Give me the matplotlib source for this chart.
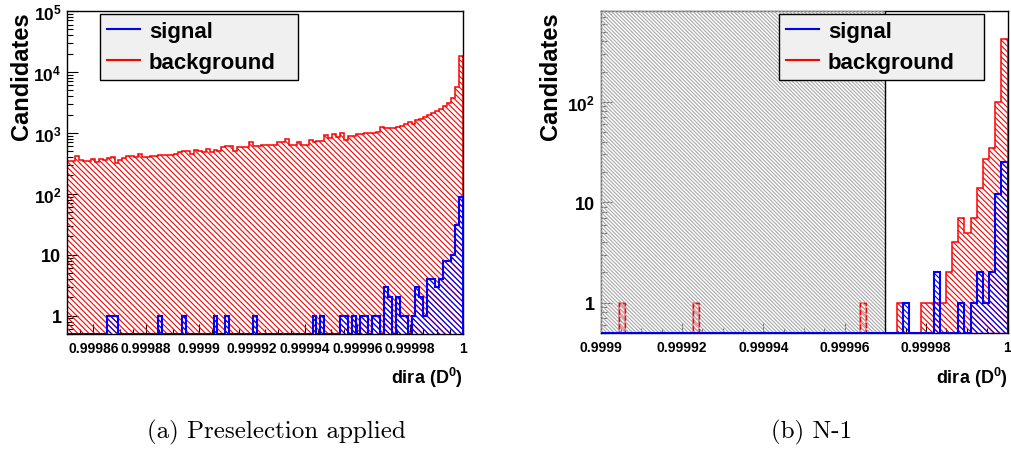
import numpy as np
import matplotlib
matplotlib.use('Agg')
import matplotlib.pyplot as plt
from matplotlib.lines import Line2D
from matplotlib.ticker import FixedLocator, FixedFormatter, LogLocator, MultipleLocator, NullFormatter

# ---- data ----
# (a) preselection applied: 100 bins from 0.99985 to 1
range_a = (0.99985, 1.0)
background_a = [
    351, 351, 424, 364, 342, 342, 378, 330, 378, 364,
    388, 398, 321, 364, 388, 414, 414, 398, 452, 398,
    398, 424, 424, 430, 440, 440, 440, 452, 482, 500,
    500, 452, 532, 505, 482, 553, 482, 532, 513, 582,
    605, 605, 501, 582, 582, 582, 713, 620, 620, 644,
    629, 629, 629, 713, 713, 800, 629, 629, 705, 629,
    629, 750, 705, 733, 733, 906, 830, 942, 851, 1000,
    778, 885, 885, 942, 942, 1000, 1000, 1000, 1050, 1247,
    1182, 1182, 1200, 1250, 1300, 1376, 1525, 1412, 1603, 1665,
    1821, 1937, 2147, 2300, 2435, 2766, 3137, 3795, 5700, 18500,
]
signal_a = [
    0, 0, 0, 0, 0, 0, 0, 0, 0, 0,
    1, 1, 1, 0, 0, 0, 0, 0, 0, 0,
    0, 0, 0, 1, 0, 0, 0, 0, 0, 1,
    0, 0, 0, 0, 0, 0, 0, 1, 0, 0,
    1, 0, 0, 0, 0, 0, 0, 1, 0, 0,
    0, 0, 0, 0, 0, 0, 0, 0, 0, 0,
    0, 0, 1, 0, 1, 0, 0, 0, 0, 1,
    1, 0, 1, 0, 1, 1, 0, 1, 1, 0,
    3, 2, 0, 2, 1, 1, 0, 1, 3, 2,
    1, 4, 4, 3, 4, 8, 8, 10, 31, 88,
]
xticks_a = [0.99986, 0.99988, 0.9999, 0.99992, 0.99994, 0.99996, 0.99998, 1.0]
xlabels_a = ['0.99986', '0.99988', '0.9999', '0.99992', '0.99994', '0.99996', '0.99998', '1']
yticks_a = [1, 10, 100, 1000, 10000, 100000]
ylabels_a = ['1', '10', r'$10^{2}$', r'$10^{3}$', r'$10^{4}$', r'$10^{5}$']

# (b) N-1: 66 bins from 0.9999 to 1, cut region shaded
range_b = (0.9999, 1.0)
cut_b = 0.99997
background_b = [
    0, 0, 0, 1, 0, 0, 0, 0, 0, 0,
    0, 0, 0, 0, 0, 1, 0, 0, 0, 0,
    0, 0, 0, 0, 0, 0, 0, 0, 0, 0,
    0, 0, 0, 0, 0, 0, 0, 0, 0, 0,
    0, 0, 1, 0, 0, 0, 0, 0, 1, 0,
    0, 0, 1, 1, 1, 1, 2, 4, 7, 5,
    7, 14, 27, 35, 100, 420,
]
signal_b = [
    0, 0, 0, 0, 0, 0, 0, 0, 0, 0,
    0, 0, 0, 0, 0, 0, 0, 0, 0, 0,
    0, 0, 0, 0, 0, 0, 0, 0, 0, 0,
    0, 0, 0, 0, 0, 0, 0, 0, 0, 0,
    0, 0, 0, 0, 0, 0, 0, 0, 0, 1,
    0, 0, 0, 0, 2, 0, 0, 0, 1, 0,
    1, 2, 1, 2, 12, 25,
]
xticks_b = [0.9999, 0.99992, 0.99994, 0.99996, 0.99998, 1.0]
xlabels_b = ['0.9999', '0.99992', '0.99994', '0.99996', '0.99998', '1']
yticks_b = [1, 10, 100]
ylabels_b = ['1', '10', r'$10^{2}$']

captions = ['(a) Preselection applied', '(b) N-1']

plt.rcParams['font.family'] = ['Liberation Sans', 'DejaVu Sans']
plt.rcParams['font.weight'] = 'bold'
plt.rcParams['mathtext.fontset'] = 'custom'
plt.rcParams['mathtext.rm'] = 'Liberation Sans:bold'
plt.rcParams['mathtext.it'] = 'Liberation Sans:bold'
plt.rcParams['mathtext.bf'] = 'Liberation Sans:bold'
plt.rcParams['hatch.linewidth'] = 0.8

W, H = 1012, 456
fig = plt.figure(figsize=(W / 100, H / 100), dpi=100)
ax1 = fig.add_axes([67 / W, 1 - 335 / H, 396 / W, 323 / H])
ax2 = fig.add_axes([600.7 / W, 1 - 334 / H, 406.8 / W, 322 / H])


def draw_hist(ax, counts, xr, ymin, color, lw, hatch, z, ls='-'):
    counts = np.asarray(counts, dtype=float)
    edges = np.linspace(xr[0], xr[1], len(counts) + 1)
    vals = np.where(counts > 0, counts, ymin)
    ax.stairs(vals, edges, baseline=ymin, fill=True, facecolor='none',
              edgecolor=color, hatch=hatch, linewidth=lw, linestyle=ls, zorder=z)


def style_axis(ax, xr, ylim, xt, xl, yt, yl):
    ax.set_yscale('log')
    ax.set_xlim(*xr)
    ax.set_ylim(*ylim)
    ax.xaxis.set_major_locator(FixedLocator(xt))
    ax.xaxis.set_major_formatter(FixedFormatter(xl))
    ax.xaxis.set_minor_locator(MultipleLocator(0.000005))
    ax.yaxis.set_major_locator(FixedLocator(yt))
    ax.yaxis.set_major_formatter(FixedFormatter(yl))
    ax.yaxis.set_minor_locator(LogLocator(base=10, subs=np.arange(2, 10)))
    ax.yaxis.set_minor_formatter(NullFormatter())
    ax.tick_params(which='both', direction='in', top=False, right=False)
    ax.tick_params(axis='x', which='major', length=7, width=0.8, labelsize=10, pad=5)
    ax.tick_params(axis='x', which='minor', length=3.5, width=0.8)
    ax.tick_params(axis='y', which='major', length=8, width=0.8, labelsize=13, pad=4)
    ax.tick_params(axis='y', which='minor', length=4, width=0.8)
    for lab in ax.get_yticklabels():
        if '$' in lab.get_text():
            lab.set_fontsize(12.5)
    for sp in ax.spines.values():
        sp.set_linewidth(1.0)
        sp.set_color('black')
    ax.set_ylabel('Candidates', fontsize=17, fontweight='bold')
    ax.set_xlabel(r'dira (D$^{0}$)', fontsize=13, fontweight='bold', ha='right')


def add_legend(ax, box):
    handles = [Line2D([], [], color='blue', lw=1.5), Line2D([], [], color='red', lw=1.5)]
    leg = ax.legend(handles, ['signal', 'background'], loc='upper left',
                    bbox_to_anchor=box, mode='expand', fontsize=16,
                    handlelength=1.5, handletextpad=0.4, labelspacing=0.45,
                    borderpad=0.3, borderaxespad=0, fancybox=False, framealpha=1)
    leg.get_frame().set_facecolor('#f0f0f0')
    leg.get_frame().set_edgecolor('black')
    leg.get_frame().set_linewidth(1.0)
    leg.set_zorder(10)


# panel (a)
ymin_a = 0.5
draw_hist(ax1, background_a, range_a, ymin_a, 'red', 1.1, '\\' * 6, 2)
draw_hist(ax1, signal_a, range_a, ymin_a, 'blue', 1.5, '\\' * 6, 3)
style_axis(ax1, range_a, (ymin_a, 1e5), xticks_a, xlabels_a, yticks_a, ylabels_a)
ax1.yaxis.set_label_coords(-0.086, 0.80)
ax1.xaxis.set_label_coords(1.0, -0.095)
add_legend(ax1, (0.083, 0.796, 0.50, 0.194))

# panel (b)
ymin_b = 0.5
draw_hist(ax2, background_b, range_b, ymin_b, 'red', 1.1, '\\' * 6, 2)
ax2.axvspan(range_b[0], cut_b, facecolor=(1, 1, 1, 0.45), edgecolor='#a8a8a8',
            hatch='\\' * 9, linewidth=0, zorder=3)
ax2.axvline(cut_b, color='black', lw=1.0, zorder=3.5)
# cut-away background bins show up as dashed outlines
draw_hist(ax2, np.where(np.arange(len(background_b)) < 46, background_b, 0),
          range_b, ymin_b, 'red', 1.0, None, 3.6, ls='--')
draw_hist(ax2, signal_b, range_b, ymin_b, 'blue', 1.5, '\\' * 6, 4)
style_axis(ax2, range_b, (ymin_b, 800), xticks_b, xlabels_b, yticks_b, ylabels_b)
ax2.yaxis.set_label_coords(-0.096, 0.80)
ax2.xaxis.set_label_coords(1.0, -0.10)
add_legend(ax2, (0.438, 0.798, 0.504, 0.192))

# captions below the panels
for cx, txt in zip([276, 812], captions):
    fig.text(cx / W, 1 - 432 / H, txt, ha='center', va='center',
             fontsize=18, family=['cmr10', 'DejaVu Serif'], fontweight='normal')

fig.savefig('out.png', dpi=100)
